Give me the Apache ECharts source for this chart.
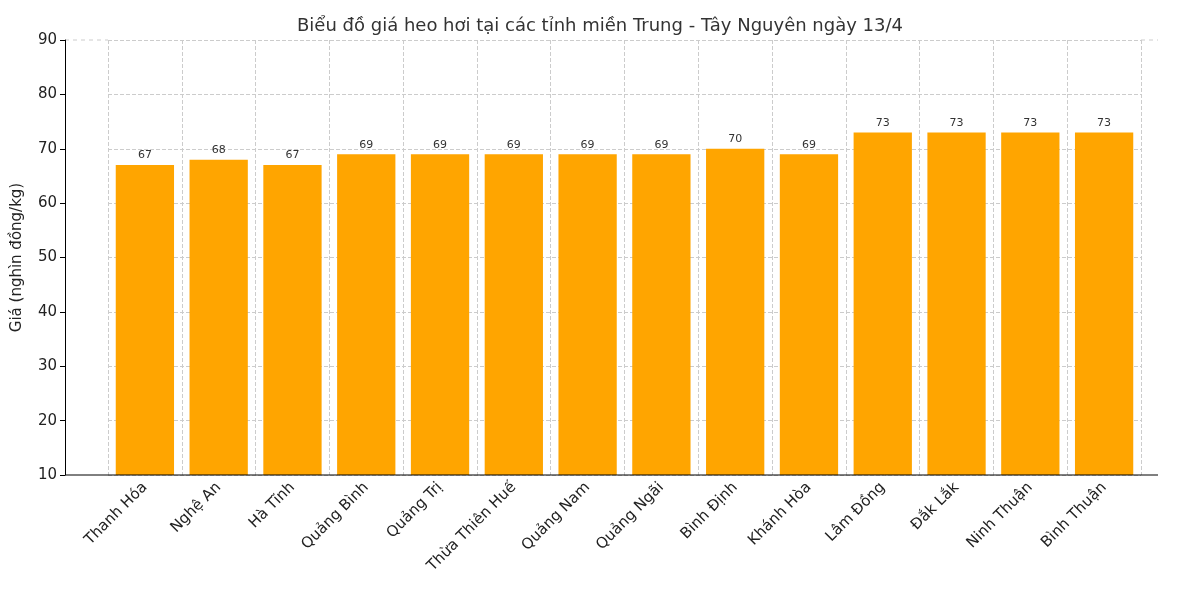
<!DOCTYPE html>
<html><head><meta charset="utf-8">
<script src="https://cdn.jsdelivr.net/npm/echarts@6/dist/echarts.min.js"></script>
<style>html,body{margin:0;padding:0;background:#fff}#c{width:1200px;height:600px}</style>
</head><body><div id="c"></div>
<script>
const categories = ["Thanh Hóa","Nghệ An","Hà Tĩnh","Quảng Bình","Quảng Trị","Thừa Thiên Huế","Quảng Nam","Quảng Ngãi","Bình Định","Khánh Hòa","Lâm Đồng","Đắk Lắk","Ninh Thuận","Bình Thuận"];
const prices = [67,68,67,69,69,69,69,69,70,69,73,73,73,73];
const chart = echarts.init(document.getElementById('c'));
chart.setOption({
  textStyle:{fontFamily:'DejaVu Sans'},
  title:{text:'Biểu đồ giá heo hơi tại các tỉnh miền Trung - Tây Nguyên ngày 13/4',left:'center',top:12,textStyle:{fontSize:18,fontWeight:'normal',color:'#333',fontFamily:'DejaVu Sans'}},
  grid:{left:108,right:59,top:40,bottom:125},
  graphic:[{type:'line',shape:{x1:65,y1:475,x2:1158,y2:475},style:{stroke:'#000',lineWidth:1},z:10},
           {type:'line',shape:{x1:65,y1:40,x2:108,y2:40},style:{stroke:'#ccc',lineDash:[4,4]}},
           {type:'line',shape:{x1:1141,y1:40,x2:1158,y2:40},style:{stroke:'#ccc',lineDash:[4,4]}}],
  xAxis:{type:'category',data:categories,
    axisLine:{show:false},axisTick:{alignWithLabel:true,lineStyle:{color:'#000'}},
    axisLabel:{rotate:45,fontSize:15,color:'#222',interval:0,margin:10},
    splitLine:{show:true,interval:0,lineStyle:{type:'dashed',color:'#ccc'}}},
  yAxis:{type:'value',min:10,max:90,interval:10,offset:43,name:'Giá (nghìn đồng/kg)',nameLocation:'middle',nameGap:40,
    nameTextStyle:{fontSize:15,color:'#222'},
    axisLine:{show:true,lineStyle:{color:'#000'}},axisTick:{show:true,lineStyle:{color:'#000'}},
    axisLabel:{fontSize:15,color:'#222'},
    splitLine:{lineStyle:{type:'dashed',color:'#ccc'}}},
  series:[{type:'bar',data:prices,barWidth:'79%',itemStyle:{color:'#FFA500'},
    label:{show:true,position:'top',fontSize:11,color:'#333',distance:4}}]
});
</script></body></html>
